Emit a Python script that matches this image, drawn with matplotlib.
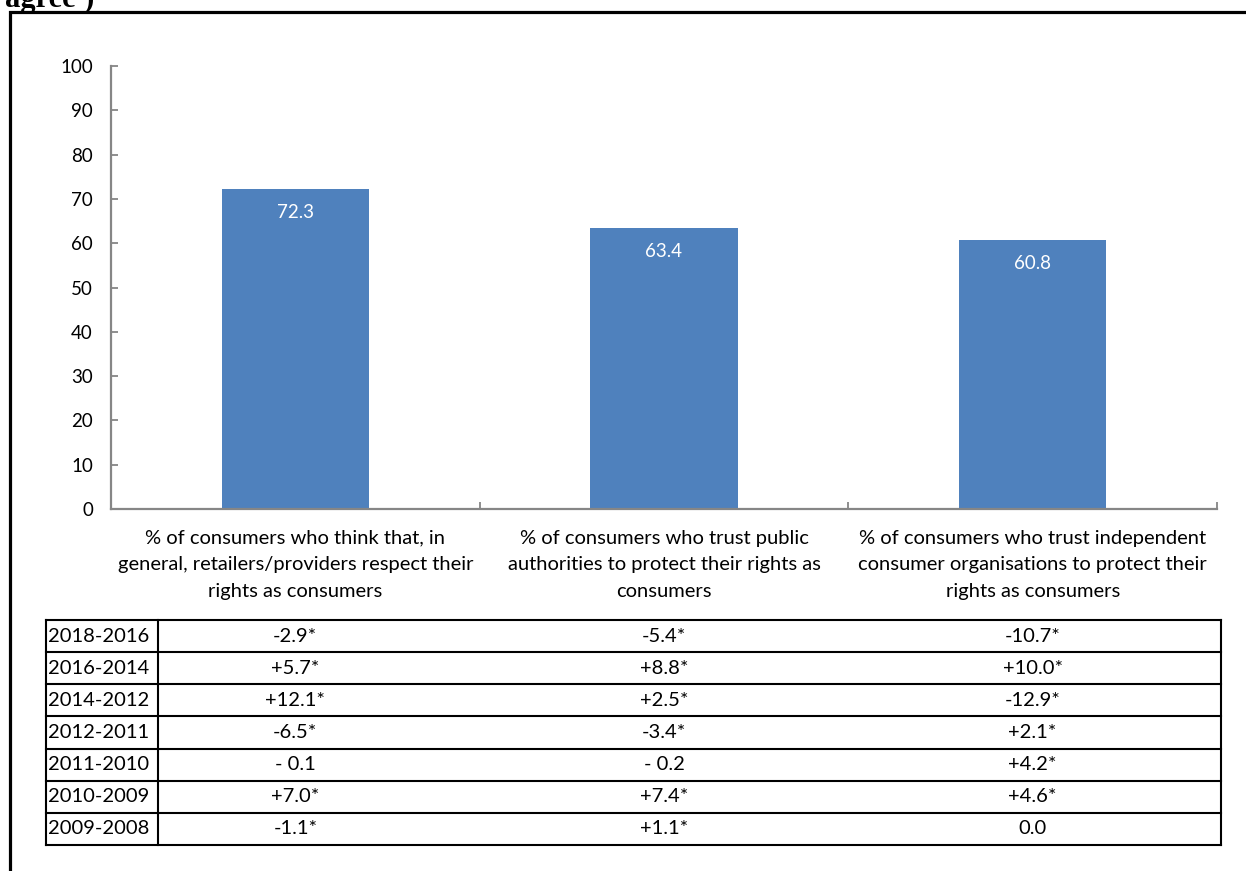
import matplotlib
matplotlib.use("Agg")
import matplotlib.pyplot as plt
from matplotlib.transforms import blended_transform_factory
import numpy as np

# ── Data ──────────────────────────────────────────────────────────────────────
categories = [
    "% of consumers who think that, in\ngeneral, retailers/providers respect their\nrights as consumers",
    "% of consumers who trust public\nauthorities to protect their rights as\nconsumers",
    "% of consumers who trust independent\nconsumer organisations to protect their\nrights as consumers",
]
values = [72.3, 63.4, 60.8]

periods = ["2018-2016", "2016-2014", "2014-2012", "2012-2011",
           "2011-2010", "2010-2009", "2009-2008"]
change_retailers = ["-2.9*", "+5.7*", "+12.1*", "-6.5*", "- 0.1", "+7.0*", "-1.1*"]
change_public    = ["-5.4*", "+8.8*", "+2.5*", "-3.4*", "- 0.2", "+7.4*", "+1.1*"]
change_orgs      = ["-10.7*", "+10.0*", "-12.9*", "+2.1*", "+4.2*", "+4.6*", "0.0"]

# ── Style ─────────────────────────────────────────────────────────────────────
W, H = 1246, 871
BAR = "#4f81bd"
AXIS = "#868686"
plt.rcParams["font.family"] = ["Lato", "DejaVu Sans"]

fig = plt.figure(figsize=(W / 100, H / 100), dpi=100, facecolor="white")

# overlay in pixel units for frame, heading and the change table
ov = fig.add_axes([0, 0, 1, 1])
ov.set_xlim(0, W)
ov.set_ylim(H, 0)
ov.axis("off")

# outer frame (continues past right/bottom edge)
ov.plot([10, 10, W + 5], [H + 5, 12, 12], color="black", lw=2.3,
        solid_joinstyle="miter", clip_on=False)

# tail of the heading above the frame
ov.text(5, 7, "agree')", fontsize=22, fontweight="bold",
        family="Liberation Serif", va="baseline", ha="left")

# ── Bar chart ─────────────────────────────────────────────────────────────────
left, right, top, bottom = 111, 1217, 66, 509
ax = fig.add_axes([left / W, (H - bottom) / H, (right - left) / W, (bottom - top) / H])
x = np.arange(len(values))
ax.bar(x, values, width=0.4, color=BAR, zorder=2)
for xi, v in zip(x, values):
    ax.text(xi, v - 5.3, f"{v:.1f}", ha="center", va="center",
            color="white", fontsize=13.5)

ax.set_xlim(-0.5, len(values) - 0.5)
ax.set_ylim(0, 100)
ax.set_yticks(np.arange(0, 101, 10))
ax.tick_params(axis="y", direction="in", length=5, width=1.3, color=AXIS,
               labelsize=13.5, pad=13)
ax.set_xticks(x)
ax.set_xticklabels(categories, fontsize=14.5, linespacing=1.68)
ax.tick_params(axis="x", which="major", length=0, pad=15)
ax.set_xticks(np.arange(-0.5, len(values), 1.0), minor=True)
ax.tick_params(axis="x", which="minor", direction="in", length=5, width=1.3, color=AXIS)

for s in ["top", "right"]:
    ax.spines[s].set_visible(False)
for s in ["left", "bottom"]:
    ax.spines[s].set_color(AXIS)
    ax.spines[s].set_linewidth(1.6)

# ── Change table ──────────────────────────────────────────────────────────────
t_left, t_right, t_top, t_bot, col1 = 46, 1221, 620, 845, 158
row_h = (t_bot - t_top) / len(periods)
for i in range(len(periods) + 1):
    y = t_top + i * row_h
    ov.plot([t_left, t_right], [y, y], color="black", lw=1.5)
for xv in (t_left, col1, t_right):
    ov.plot([xv, xv], [t_top, t_bot], color="black", lw=1.5)

tr = blended_transform_factory(ax.transData, ov.transData)
columns = [change_retailers, change_public, change_orgs]
for i, p in enumerate(periods):
    yc = t_top + (i + 0.5) * row_h
    ov.text(t_left + 2, yc, p, ha="left", va="center", fontsize=14.5)
    for j, col in enumerate(columns):
        ax.text(j, yc, col[i], ha="center", va="center", fontsize=14.5,
                transform=tr, clip_on=False)

fig.savefig("out.png", dpi=100, facecolor="white")
